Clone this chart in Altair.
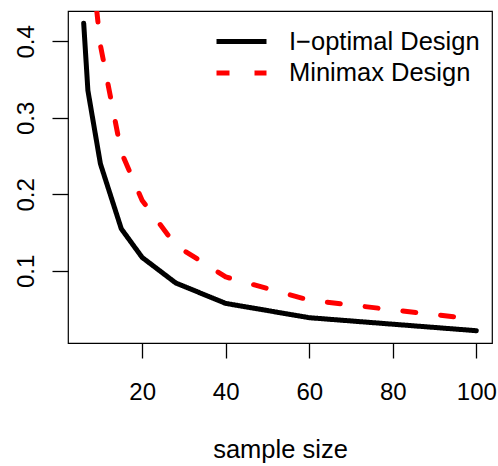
import altair as alt
import pandas as pd

sample_size = [6, 7, 10, 15, 20, 28, 40, 60, 80, 100]
i_optimal = [0.4237, 0.336, 0.240, 0.155, 0.1175, 0.0843, 0.0574, 0.0387, 0.0302, 0.0217]
minimax = [0.69, 0.55, 0.395, 0.255, 0.192, 0.1335, 0.092, 0.0617, 0.049, 0.0366]
series_names = ["I\u2212optimal Design", "Minimax Design"]
x_ticks = [20, 40, 60, 80, 100]
y_ticks = [0.1, 0.2, 0.3, 0.4]

rows = []
for name, vals in zip(series_names, [i_optimal, minimax]):
    for n, v in zip(sample_size, vals):
        rows.append({"n": n, "value": v, "design": name})
df = pd.DataFrame(rows)


def r_range(v):
    lo, hi = min(v), max(v)
    d = (hi - lo) * 0.04
    return [lo - d, hi + d]


FONT = "Liberation Sans"

legend = alt.Legend(
    title=None,
    orient="none",
    legendX=146,
    legendY=18,
    symbolType="stroke",
    symbolSize=2500,
    symbolStrokeWidth=5,
    clipHeight=25,
    labelFont=FONT,
    labelFontSize=25.5,
    labelColor="black",
    labelOffset=20,
    labelLimit=0,
    rowPadding=5.6,
    padding=0,
)

chart = (
    alt.Chart(df)
    .mark_line(clip=True, strokeWidth=5, strokeCap="round", strokeJoin="round")
    .encode(
        x=alt.X(
            "n:Q",
            scale=alt.Scale(domain=r_range(sample_size), nice=False, zero=False),
            axis=alt.Axis(
                values=x_ticks,
                title="sample size",
                domain=False,
                tickSize=15,
                tickWidth=1.3,
                tickColor="black",
                labelFont=FONT,
                labelFontSize=24,
                labelColor="black",
                labelPadding=22,
                titleFont=FONT,
                titleFontSize=25.5,
                titleFontWeight="normal",
                titleColor="black",
                titleBaseline="alphabetic",
                titleY=114,
                grid=False,
            ),
        ),
        y=alt.Y(
            "value:Q",
            scale=alt.Scale(domain=r_range(i_optimal), nice=False, zero=False),
            axis=alt.Axis(
                values=y_ticks,
                title=None,
                domain=False,
                tickSize=16,
                tickWidth=1.3,
                tickColor="black",
                labelFont=FONT,
                labelFontSize=24,
                labelColor="black",
                labelAngle=270,
                labelAlign="center",
                labelBaseline="alphabetic",
                labelPadding=19,
                grid=False,
            ),
        ),
        color=alt.Color(
            "design:N",
            scale=alt.Scale(domain=series_names, range=["black", "red"]),
            legend=legend,
        ),
        strokeDash=alt.StrokeDash(
            "design:N",
            scale=alt.Scale(domain=series_names, range=[[1, 0], [13, 25]]),
            legend=legend,
        ),
    )
    .properties(
        width=424,
        height=332,
        autosize=alt.AutoSizeParams(type="none"),
        padding={"left": 68, "top": 11, "right": 6, "bottom": 123},
        background="white",
    )
    .configure_view(stroke="black", strokeWidth=1.2)
)

chart.save("out.html", embed_options={"renderer": "svg", "actions": False})
